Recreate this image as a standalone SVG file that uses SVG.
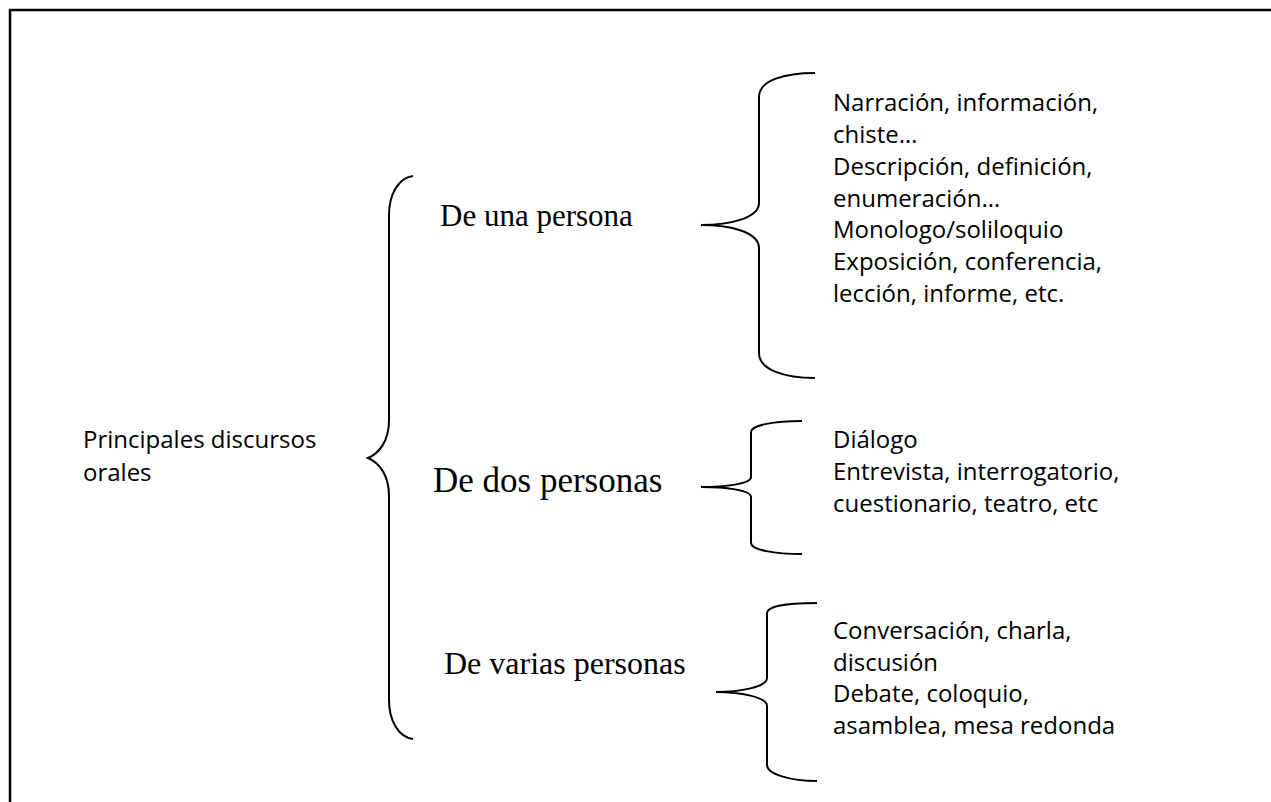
<svg xmlns="http://www.w3.org/2000/svg" width="1271" height="802" viewBox="0 0 1271 802">
<style>
.sans{font-family:"Open Sans","Liberation Sans",sans-serif;font-size:24px;fill:#000}
.serif{font-family:"Liberation Serif","Times New Roman",serif;font-size:31px;fill:#000}
.brace{fill:none;stroke:#000;stroke-width:2}
.frame{fill:none;stroke:#000;stroke-width:2.5}
</style>
<rect width="1271" height="802" fill="#fff"/>
<path class="frame" d="M10,802 L10,10 L1271,10"/>
<g id="connectors">
<path class="brace" d="M413,176 C398,178 389,195 389,215 L389,420 C389,440 380,453 368,458 C380,463 389,476 389,496 L389,700 C389,720 398,737 413,739"/>
<path class="brace" d="M815,73 C785,73 759,80 759,97 L759,203 C759,218 730,225 701,225 C730,225 759,232 759,248 L759,353 C759,370 785,378 815,378"/>
<path class="brace" d="M802,421 C775,421 751,425 751,432 L751,477 C751,484 725,487 701,487 C725,487 751,490 751,497 L751,543 C751,550 775,554 802,554"/>
<path class="brace" d="M817,603 C790,603 767,606 767,613 L767,678 C767,687 740,692 716,692 C740,692 767,697 767,706 L767,765 C767,774 790,781 817,781"/>
</g>
<g id="root">
<text class="sans" x="83" y="448">Principales discursos</text>
<text class="sans" x="83" y="481">orales</text>
</g>
<g id="una">
<text class="serif" x="440" y="226">De una persona</text>
</g>
<g id="dos">
<text class="serif" x="433" y="492" style="font-size:35px">De dos personas</text>
</g>
<g id="varias">
<text class="serif" x="444" y="674" style="font-size:32px">De varias personas</text>
</g>
<g id="una-list">
<text class="sans" x="833" y="111">Narración, información,</text>
<text class="sans" x="833" y="143">chiste…</text>
<text class="sans" x="833" y="175">Descripción, definición,</text>
<text class="sans" x="833" y="207">enumeración…</text>
<text class="sans" x="833" y="238">Monologo/soliloquio</text>
<text class="sans" x="833" y="270">Exposición, conferencia,</text>
<text class="sans" x="833" y="302">lección, informe, etc.</text>
</g>
<g id="dos-list">
<text class="sans" x="833" y="448">Diálogo</text>
<text class="sans" x="833" y="480">Entrevista, interrogatorio,</text>
<text class="sans" x="833" y="512">cuestionario, teatro, etc</text>
</g>
<g id="varias-list">
<text class="sans" x="833" y="639">Conversación, charla,</text>
<text class="sans" x="833" y="671">discusión</text>
<text class="sans" x="833" y="702">Debate, coloquio,</text>
<text class="sans" x="833" y="734">asamblea, mesa redonda</text>
</g>
</svg>
